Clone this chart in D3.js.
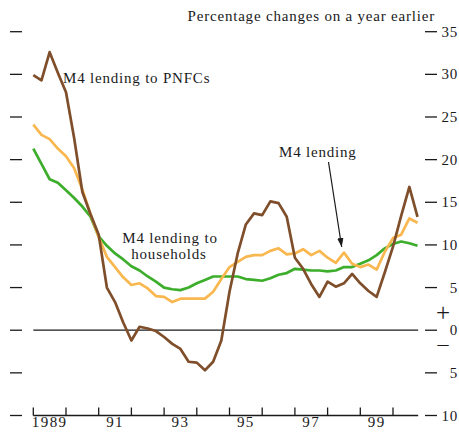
<!DOCTYPE html>
<html>
<head>
<meta charset="utf-8">
<script src="https://cdn.jsdelivr.net/npm/d3@7"></script>
<style>
  body { margin: 0; background: #fff; }
  svg text { font-family: "Liberation Serif", serif; fill: #1a1a1a; }
</style>
</head>
<body>
<svg width="459" height="436"></svg>
<script>
// quarterly, 1989 Q1 - 2000 Q4
var quarters = d3.range(48).map(function(i) { return 1989 + i / 4; });

var pnfc = [29.9, 29.3, 32.6, 30.2, 27.9, 22.5, 16.2, 13.6, 11.2, 5.0, 3.3, 0.9,
            -1.2, 0.4, 0.2, -0.1, -0.8, -1.6, -2.2, -3.7, -3.8, -4.7, -3.7, -1.2,
            4.5, 9.0, 12.4, 13.7, 13.5, 15.1, 14.9, 13.3, 8.5, 7.2, 5.4, 3.9,
            5.7, 5.1, 5.5, 6.6, 5.5, 4.6, 3.9, 6.8, 9.8, 13.4, 16.8, 13.3];

var total = [24.1, 22.9, 22.4, 21.3, 20.4, 19.0, 16.5, 13.6, 10.9, 8.6, 7.4, 6.2,
             5.3, 5.5, 4.9, 4.0, 3.9, 3.3, 3.7, 3.7, 3.7, 3.7, 4.5, 6.0,
             7.4, 8.0, 8.6, 8.8, 8.8, 9.3, 9.6, 8.9, 9.0, 9.5, 8.8, 9.3,
             8.5, 7.9, 9.1, 7.8, 7.4, 7.7, 7.1, 9.2, 10.8, 11.2, 13.1, 12.6];

var households = [21.3, 19.5, 17.7, 17.3, 16.4, 15.5, 14.5, 13.3, 11.0, 9.9, 9.0, 8.3,
                  7.5, 7.0, 6.3, 5.7, 5.0, 4.8, 4.7, 5.0, 5.5, 5.9, 6.3, 6.3,
                  6.3, 6.3, 6.0, 5.9, 5.8, 6.1, 6.5, 6.7, 7.2, 7.1, 7.0, 7.0,
                  6.9, 7.0, 7.4, 7.4, 7.8, 8.2, 8.8, 9.6, 10.1, 10.4, 10.2, 9.9];

var yTicks = [35, 30, 25, 20, 15, 10, 5, 0, -5, -10];
var yearTicks = d3.range(1989, 2001);
var yearLabels = [1989, 1991, 1993, 1995, 1997, 1999];

var svg = d3.select("svg");

var x = d3.scaleLinear().domain([1989, 2001]).range([33.3, 425.7]);
var y = d3.scaleLinear().domain([-10, 35]).range([415.5, 31.7]);

// left tick dashes
svg.append("g")
   .selectAll("line")
   .data(yTicks)
   .enter().append("line")
   .attr("x1", 10).attr("x2", 22)
   .attr("y1", function(d) { return y(d); })
   .attr("y2", function(d) { return y(d); })
   .attr("stroke", "#1a1a1a")
   .attr("stroke-width", 1.3);

// right axis
var right = svg.append("g");
right.selectAll("line")
   .data(yTicks)
   .enter().append("line")
   .attr("x1", 425).attr("x2", 437)
   .attr("y1", function(d) { return y(d); })
   .attr("y2", function(d) { return y(d); })
   .attr("stroke", "#1a1a1a")
   .attr("stroke-width", 1.3);
right.selectAll("text")
   .data(yTicks)
   .enter().append("text")
   .attr("x", 458)
   .attr("y", function(d) { return y(d) + 5; })
   .attr("text-anchor", "end")
   .attr("font-size", "15px")
   .attr("letter-spacing", "0.8px")
   .text(function(d) { return Math.abs(d); });
right.append("text")
   .attr("x", 443).attr("y", y(0) - 9)
   .attr("text-anchor", "middle")
   .attr("font-size", "25px")
   .attr("font-weight", "300")
   .text("+");
right.append("text")
   .attr("x", 443).attr("y", y(0) + 21)
   .attr("text-anchor", "middle")
   .attr("font-size", "22px")
   .text("\u2013");

// x axis
var xa = svg.append("g");
xa.append("line")
  .attr("x1", x(1989)).attr("x2", x(2000.77))
  .attr("y1", y(-10)).attr("y2", y(-10))
  .attr("stroke", "#1a1a1a").attr("stroke-width", 1.3);
xa.selectAll(".tick")
  .data(yearTicks)
  .enter().append("line")
  .attr("class", "tick")
  .attr("x1", function(d) { return x(d); })
  .attr("x2", function(d) { return x(d); })
  .attr("y1", y(-10)).attr("y2", y(-10) - 8)
  .attr("stroke", "#1a1a1a").attr("stroke-width", 1.3);
xa.selectAll("text")
  .data(yearLabels)
  .enter().append("text")
  .attr("x", function(d) { return x(d + 0.5); })
  .attr("y", 427)
  .attr("text-anchor", "middle")
  .attr("font-size", "15px")
  .attr("letter-spacing", "1.4px")
  .text(function(d) { return d === 1989 ? "1989" : String(d).slice(2); });

// zero line
svg.append("line")
   .attr("x1", x(1989)).attr("x2", x(2000.77))
   .attr("y1", y(0)).attr("y2", y(0))
   .attr("stroke", "#1a1a1a").attr("stroke-width", 1.2);

var line = d3.line()
  .x(function(d, i) { return x(quarters[i]); })
  .y(function(d) { return y(d); });

[[households, "#3dae2b"], [total, "#f9b74f"], [pnfc, "#7f4e2a"]].forEach(function(s) {
  svg.append("path")
     .datum(s[0])
     .attr("d", line)
     .attr("fill", "none")
     .attr("stroke", s[1])
     .attr("stroke-width", 2.7)
     .attr("stroke-linejoin", "round");
});

// title and labels
svg.append("text")
   .attr("x", 435).attr("y", 21)
   .attr("text-anchor", "end")
   .attr("font-size", "15px")
   .attr("letter-spacing", "0.8px")
   .text("Percentage changes on a year earlier");

svg.append("text")
   .attr("x", 63).attr("y", 83)
   .attr("font-size", "15px")
   .attr("letter-spacing", "0.8px")
   .text("M4 lending to PNFCs");

svg.append("text")
   .attr("x", 279).attr("y", 157)
   .attr("font-size", "15px")
   .attr("letter-spacing", "0.8px")
   .text("M4 lending");

svg.append("text")
   .attr("x", 170).attr("y", 243)
   .attr("text-anchor", "middle")
   .attr("font-size", "15px")
   .attr("letter-spacing", "0.8px")
   .text("M4 lending to");
svg.append("text")
   .attr("x", 169).attr("y", 258.5)
   .attr("text-anchor", "middle")
   .attr("font-size", "15px")
   .attr("letter-spacing", "0.8px")
   .text("households");

// arrow
svg.append("defs").append("marker")
   .attr("id", "ah")
   .attr("viewBox", "0 0 10 10")
   .attr("refX", 10).attr("refY", 5)
   .attr("markerWidth", 9).attr("markerHeight", 9)
   .attr("markerUnits", "userSpaceOnUse")
   .attr("orient", "auto")
   .append("path")
   .attr("d", "M0,1.5L10,5L0,8.5Z")
   .attr("fill", "#1a1a1a");
svg.append("line")
   .attr("x1", 328.5).attr("y1", 162)
   .attr("x2", 341.7).attr("y2", 247)
   .attr("stroke", "#1a1a1a")
   .attr("stroke-width", 1.2)
   .attr("marker-end", "url(#ah)");
</script>
</body>
</html>
